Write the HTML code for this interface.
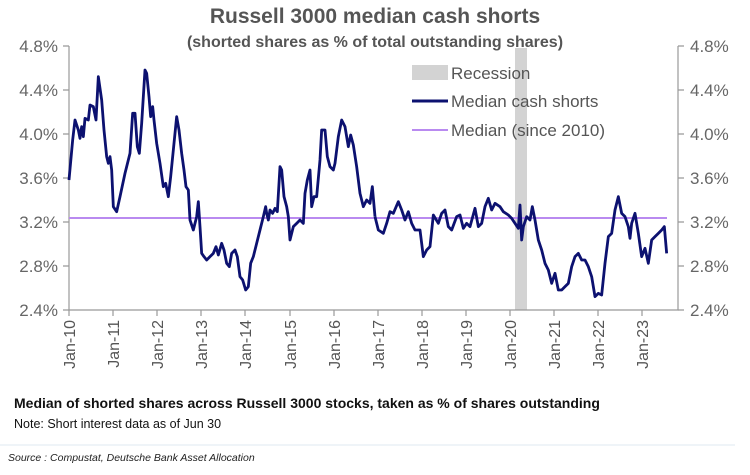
<!DOCTYPE html>
<html><head><style>
body{margin:0;width:750px;height:470px;background:#fff;overflow:hidden;font-family:"Liberation Sans",Arial,sans-serif}
</style></head><body>
<svg width="750" height="470" xmlns="http://www.w3.org/2000/svg" font-family="Liberation Sans, Arial, sans-serif">
<text x="375" y="23" text-anchor="middle" font-size="21" font-weight="bold" fill="#555">Russell 3000 median cash shorts</text>
<text x="375" y="47" text-anchor="middle" font-size="16" font-weight="bold" fill="#555">(shorted shares as % of total outstanding shares)</text>
<rect x="515" y="48" width="12" height="262" fill="#d3d3d3"/>
<g stroke="#999" stroke-width="1.2" fill="none">
<path d="M69 46V310H678V46"/>
<path d="M63 46H69M63 90H69M63 134H69M63 178H69M63 222H69M63 266H69M63 310H69"/>
<path d="M678 46H684M678 90H684M678 134H684M678 178H684M678 222H684M678 266H684M678 310H684"/>
<path d="M69 310v6M113 310v6M157 310v6M201 310v6M245 310v6M290 310v6M334 310v6M378 310v6M422 310v6M466 310v6M510 310v6M554 310v6M598 310v6M642 310v6"/>
</g>
<g font-size="17" fill="#666">
<g text-anchor="end">
<text x="58" y="52">4.8%</text><text x="58" y="96">4.4%</text><text x="58" y="140">4.0%</text><text x="58" y="184">3.6%</text><text x="58" y="228">3.2%</text><text x="58" y="272">2.8%</text><text x="58" y="316">2.4%</text>
</g>
<g text-anchor="start">
<text x="690" y="52">4.8%</text><text x="690" y="96">4.4%</text><text x="690" y="140">4.0%</text><text x="690" y="184">3.6%</text><text x="690" y="228">3.2%</text><text x="690" y="272">2.8%</text><text x="690" y="316">2.4%</text>
</g>
</g>
<g font-size="16" fill="#555" text-anchor="end">
<text transform="translate(75,320) rotate(-90)">Jan-10</text>
<text transform="translate(119,320) rotate(-90)">Jan-11</text>
<text transform="translate(163,320) rotate(-90)">Jan-12</text>
<text transform="translate(207,320) rotate(-90)">Jan-13</text>
<text transform="translate(251,320) rotate(-90)">Jan-14</text>
<text transform="translate(296,320) rotate(-90)">Jan-15</text>
<text transform="translate(340,320) rotate(-90)">Jan-16</text>
<text transform="translate(384,320) rotate(-90)">Jan-17</text>
<text transform="translate(428,320) rotate(-90)">Jan-18</text>
<text transform="translate(472,320) rotate(-90)">Jan-19</text>
<text transform="translate(516,320) rotate(-90)">Jan-20</text>
<text transform="translate(560,320) rotate(-90)">Jan-21</text>
<text transform="translate(604,320) rotate(-90)">Jan-22</text>
<text transform="translate(648,320) rotate(-90)">Jan-23</text>
</g>
<line x1="69" y1="218" x2="667" y2="218" stroke="#b98af0" stroke-width="2"/>
<g fill="none" stroke="#0c1170" stroke-width="2.8" stroke-linejoin="round" vector-effect="non-scaling-stroke">
<polyline vector-effect="non-scaling-stroke" transform="translate(0,30) scale(0.33333)" points="207,450 218,330 225,270 235,300 240,325 245,290 250,320 255,265 265,270 270,225 280,230 288,270 295,140 305,210 312,300 320,380 325,400 330,380 335,420 340,530 350,545 360,500 375,430 390,370 398,250 405,250 412,350 418,370 425,280 435,120 440,130 447,200 452,260 458,230 462,270 470,340 480,400 490,470 497,460 505,500 512,440 520,360 530,260 537,300 545,370 552,420 558,470 565,480 570,570 580,600 590,560 595,515 600,590 605,670 612,680 620,690 630,680 640,670 648,650 655,675 665,640 672,660 680,700 688,710 695,670 705,660 712,680 720,740 728,750 737,780 745,770 752,700 760,680 770,640 780,600 790,560 797,530 800,550 805,570 810,540 818,550 825,535 832,545 840,410 845,420 852,500 860,530 865,560 870,630 880,590 890,580 900,570 910,580 915,490 922,450 930,420 935,530 942,500 950,500 960,390 965,300 975,300 982,380 990,410 1000,420 1005,400 1010,360 1015,320 1025,270 1035,290 1045,350 1052,315 1060,345 1070,410 1080,490 1090,530 1100,510 1110,520 1117,470 1125,560"/>
<polyline vector-effect="non-scaling-stroke" transform="translate(375,30) scale(0.33333)" points="0,560 10,600 25,610 35,580 45,545 55,550 70,515 80,540 90,570 100,545 110,580 120,600 135,600 145,680 155,660 165,650 175,555 190,580 200,550 210,540 220,590 230,600 245,560 255,555 265,595 275,580 285,590 300,535 310,590 320,580 330,530 340,505 350,540 360,520 375,530 385,545 400,555 410,565 420,580 430,595 435,525 440,630 445,590 455,560 465,570 472,530 480,570 490,630 500,660 510,700 520,720 530,760 540,730 550,780 560,780 570,770 580,760 590,710 600,680 610,670 620,690 630,690 640,710 650,740 660,800 670,790 680,795 690,700 700,620 710,610 720,540 730,500 740,550 750,560 760,590 765,625 770,580 780,550 790,610 800,680 810,655 820,700 830,630 840,620 850,610 860,600 868,590 875,670"/>
</g>
<rect x="412" y="65" width="36" height="15" fill="#d3d3d3"/>
<line x1="412" y1="101" x2="448" y2="101" stroke="#0c1170" stroke-width="3"/>
<line x1="412" y1="130" x2="448" y2="130" stroke="#b98af0" stroke-width="2"/>
<g font-size="17" fill="#555">
<text x="451" y="79">Recession</text>
<text x="451" y="107">Median cash shorts</text>
<text x="451" y="136">Median (since 2010)</text>
</g>
<text x="14" y="408" font-size="14" font-weight="bold" fill="#111">Median of shorted shares across Russell 3000 stocks, taken as % of shares outstanding</text>
<text x="14" y="428" font-size="12.5" fill="#111">Note: Short interest data as of Jun 30</text>
<line x1="0" y1="445" x2="735" y2="445" stroke="#dfe8f2" stroke-width="1"/>
<text x="8" y="461" font-size="10.5" font-style="italic" fill="#222">Source : Compustat, Deutsche Bank Asset Allocation</text>
</svg>
</body></html>
